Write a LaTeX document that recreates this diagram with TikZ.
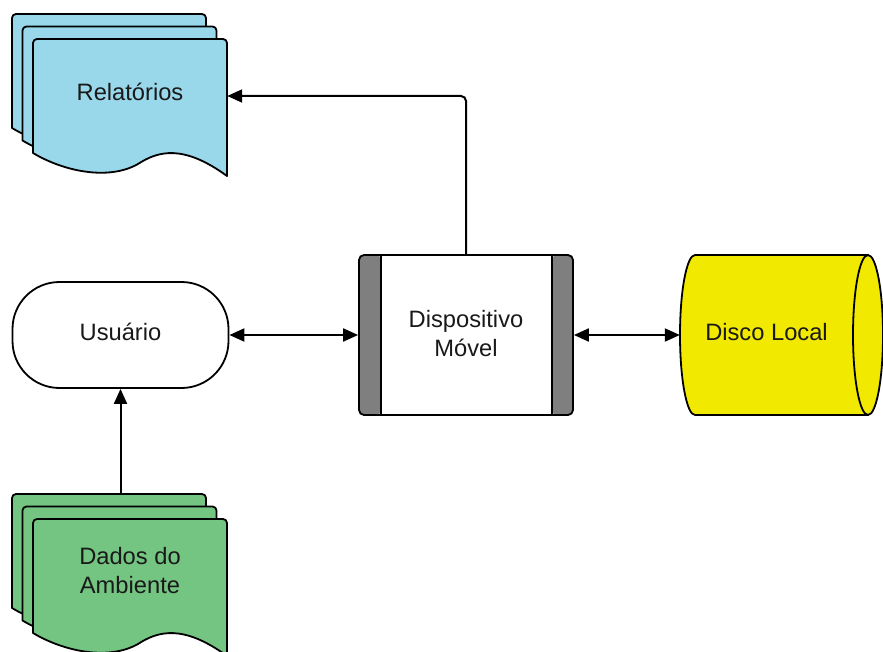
\documentclass[tikz,border=0pt]{standalone}
\usepackage{fontspec}
\setmainfont{Liberation Sans}
\usetikzlibrary{arrows.meta}
\definecolor{relblue}{HTML}{99D8EA}
\definecolor{datgreen}{HTML}{74C482}
\definecolor{dskyellow}{HTML}{F2E900}
\definecolor{bargray}{HTML}{7F7F7F}
\tikzset{
  shp/.style={draw,line width=1.8pt},
  arr/.style={line width=2pt,-{Triangle[length=15pt,width=13pt]}},
  darr/.style={line width=2pt,{Triangle[length=15pt,width=13pt]}-{Triangle[length=15pt,width=13pt]}},
  lbl/.style={font=\fontsize{23.7}{29}\selectfont,text=black!90,align=center},
  sheet/.style={shp,line join=round}
}
% one page of a stack of documents, top left at (#1,#2)
\newcommand{\docsheet}[3]{%
  \draw[sheet,fill=#3,shift={(#1,#2)}] (0,114) [rounded corners=4pt] -- (0,0) -- (194,0) -- (194,60)
    [sharp corners] -- (194,137) .. controls (150,105) and (125,112) .. (105,125)
    .. controls (75,142) and (30,132) .. (0,114) -- cycle;}
\begin{document}
\begin{tikzpicture}[x=1pt,y=-1pt]
\useasboundingbox (0,0) rectangle (883,652);
% Relatorios
\docsheet{12}{14}{relblue} \docsheet{22.5}{26.5}{relblue} \docsheet{33}{39}{relblue}
\node[lbl,text depth=9pt,minimum width=194pt,minimum height=114pt] (rel) at (130,96) {Relatórios};
% Dados do Ambiente
\docsheet{12}{494}{datgreen} \docsheet{22.5}{506.5}{datgreen} \docsheet{33}{519}{datgreen}
\node[lbl,minimum width=194pt,minimum height=114pt] (dat) at (130,571) {Dados do\\Ambiente};
\coordinate (dattop) at (120.5,494);
% Usuario
\node[shp,lbl,text depth=7pt,fill=white,rounded corners=47pt,minimum width=216pt,minimum height=106pt] (usr) at (120.5,335) {Usuário};
% Dispositivo Movel
\node[shp,lbl,text depth=4pt,fill=white,rounded corners=5pt,minimum width=214pt,minimum height=160pt,
  path picture={
    \fill[bargray] (path picture bounding box.north west) rectangle ([xshift=22pt]path picture bounding box.south west);
    \fill[bargray] (path picture bounding box.north east) rectangle ([xshift=-21pt]path picture bounding box.south east);
    \draw[line width=1.8pt] ([xshift=22pt]path picture bounding box.north west) -- ([xshift=22pt]path picture bounding box.south west);
    \draw[line width=1.8pt] ([xshift=-21pt]path picture bounding box.north east) -- ([xshift=-21pt]path picture bounding box.south east);
  }] (dev) at (466,335) {Dispositivo\\Móvel};
% Disco Local
\draw[shp,fill=dskyellow] (868,255) -- (695,255) arc[start angle=270,end angle=90,x radius=15,y radius=80] -- (868,415);
\draw[shp,fill=dskyellow] (868,335) ellipse[x radius=15,y radius=80];
\node[lbl,text depth=7pt,minimum width=173pt,minimum height=160pt] (dsk) at (766.5,335) {Disco Local};
% connectors
\draw[darr] (usr) -- (dev);
\draw[darr] (dev) -- (dsk);
\draw[arr,rounded corners=5pt] (dev.north) |- (rel.east);
\draw[arr] (dattop) -- (usr.south);
\end{tikzpicture}
\end{document}
